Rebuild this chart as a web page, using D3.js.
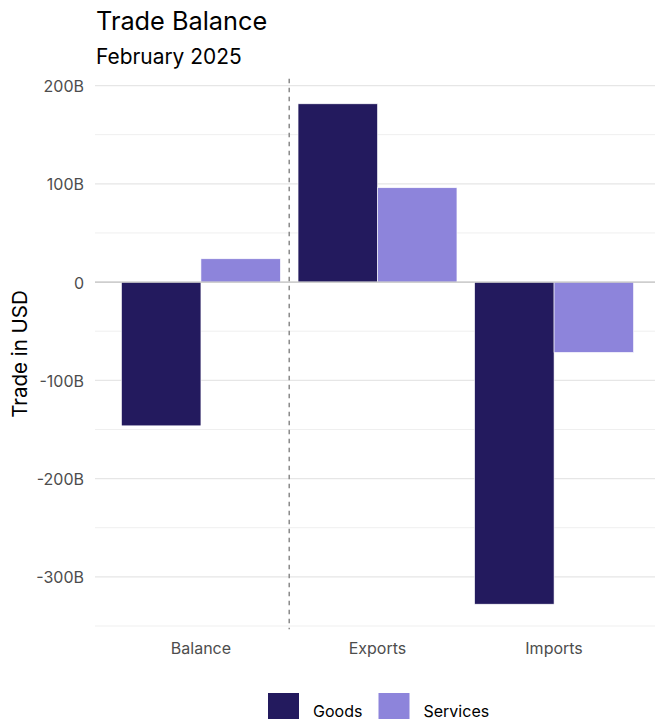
<!DOCTYPE html>
<html><head><meta charset="utf-8">
<script src="https://cdn.jsdelivr.net/npm/d3@7"></script>
<style>body{margin:0;background:#fff}svg{display:block;font-family:Inter,"Noto Sans",sans-serif}</style>
</head><body><svg id="c" width="655" height="719"></svg>
<script>
const categories = ["Balance", "Exports", "Imports"];
const seriesNames = ["Goods", "Services"];
const goods = [-146.3, 181.4, -327.8];
const services = [23.7, 96.0, -71.6];
const yTicks = [-300, -200, -100, 0, 100, 200];
const yMinor = [-350, -250, -150, -50, 50, 150];
const yTickLabels = ["-300B", "-200B", "-100B", "0", "100B", "200B"];
const colors = ["#231A5E", "#8D84DB"];

(function () {
const svg = d3.select("#c");
const pL = 95, pR = 660, pT = 78.8, pB = 629.2;
const allVals = goods.concat(services);
const lo = d3.min(allVals), hi = d3.max(allVals), pad = (hi - lo) * 0.05;
const y = d3.scaleLinear().domain([lo - pad, hi + pad]).range([pB, pT]);
const x = d3.scalePoint().domain(categories).range([pL, pR]).padding(0.6);
const groupW = x.step() * 0.9;
const xs = d3.scaleBand().domain(seriesNames).range([-groupW / 2, groupW / 2]).padding(0);

// grid
const g = svg.append("g");
g.selectAll(".minor").data(yMinor).join("line")
  .attr("x1", pL).attr("x2", 655).attr("y1", d => y(d)).attr("y2", d => y(d))
  .attr("stroke", "#efefef").attr("stroke-width", 1);
g.selectAll(".major").data(yTicks).join("line")
  .attr("x1", pL).attr("x2", 655).attr("y1", d => y(d)).attr("y2", d => y(d))
  .attr("stroke", "#e6e6e6").attr("stroke-width", 1.2);

// bars
const data = [];
categories.forEach((c, i) => {
  data.push({cat: c, s: "Goods", v: goods[i], col: colors[0]});
  data.push({cat: c, s: "Services", v: services[i], col: colors[1]});
});
svg.append("g").selectAll("rect").data(data).join("rect")
  .attr("x", d => x(d.cat) + xs(d.s))
  .attr("width", xs.bandwidth())
  .attr("y", d => Math.min(y(0), y(d.v)))
  .attr("height", d => Math.abs(y(d.v) - y(0)))
  .attr("fill", d => d.col)
  .attr("stroke", "#fff").attr("stroke-width", 0.6);

// zero line
svg.append("line").attr("x1", pL).attr("x2", 655).attr("y1", y(0)).attr("y2", y(0))
  .attr("stroke", "#c4c4c4").attr("stroke-width", 1.3);

// dashed separator
const xd = (x("Balance") + x("Exports")) / 2;
svg.append("line").attr("x1", xd).attr("x2", xd).attr("y1", pT).attr("y2", pB)
  .attr("stroke", "#8a8a8a").attr("stroke-width", 1.5).attr("stroke-dasharray", "4.5,4.5");

// y tick labels
svg.append("g").selectAll("text").data(yTicks).join("text")
  .attr("x", 84).attr("y", d => y(d) + 6.5)
  .attr("text-anchor", "end").attr("font-size", 16).attr("fill", "#4d4d4d")
  .text((d, i) => yTickLabels[i]);

// x tick labels
svg.append("g").selectAll("text").data(categories).join("text")
  .attr("x", d => x(d)).attr("y", 654)
  .attr("text-anchor", "middle").attr("font-size", 16).attr("fill", "#4d4d4d")
  .text(d => d);

// axis title
svg.append("text").attr("transform", `translate(27,${(pT + pB) / 2}) rotate(-90)`)
  .attr("text-anchor", "middle").attr("font-size", 20.5).attr("fill", "#000")
  .text("Trade in USD");

// titles
svg.append("text").attr("x", 96).attr("y", 30).attr("font-size", 25.3).attr("fill", "#000").text("Trade Balance");
svg.append("text").attr("x", 96).attr("y", 63.5).attr("font-size", 20.9).attr("fill", "#000").text("February 2025");

// legend
const legX = [268, 378.5];
const lg = svg.append("g");
seriesNames.forEach((s, i) => {
  lg.append("rect").attr("x", legX[i]).attr("y", 693).attr("width", 31).attr("height", 31).attr("fill", colors[i]);
  lg.append("text").attr("x", legX[i] + 45).attr("y", 716.5).attr("font-size", 16).attr("fill", "#000").text(s);
});
})();
</script></body></html>
